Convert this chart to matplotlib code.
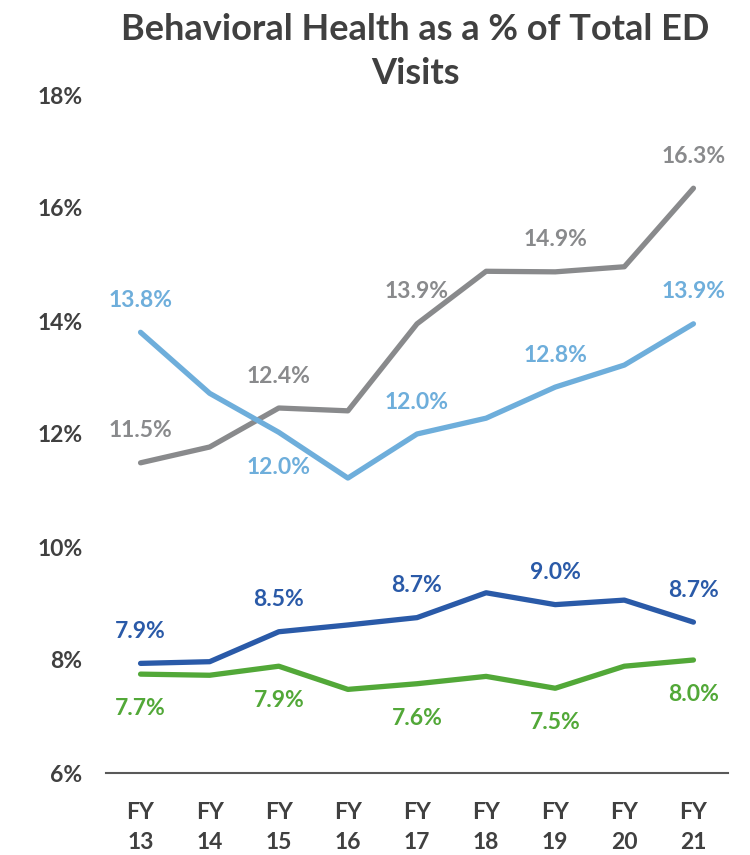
import matplotlib
matplotlib.use("Agg")
import matplotlib.pyplot as plt

years = ["FY\n13", "FY\n14", "FY\n15", "FY\n16", "FY\n17", "FY\n18", "FY\n19", "FY\n20", "FY\n21"]
gray_vals = [11.49, 11.77, 12.46, 12.41, 13.95, 14.88, 14.87, 14.96, 16.35]
lightblue_vals = [13.80, 12.72, 12.03, 11.22, 12.00, 12.28, 12.83, 13.22, 13.95]
darkblue_vals = [7.94, 7.97, 8.50, 8.62, 8.75, 9.19, 8.98, 9.06, 8.67]
green_vals = [7.75, 7.73, 7.89, 7.48, 7.58, 7.71, 7.50, 7.89, 8.00]

gray_labels = {0: "11.5%", 2: "12.4%", 4: "13.9%", 6: "14.9%", 8: "16.3%"}
lightblue_labels = {0: "13.8%", 2: "12.0%", 4: "12.0%", 6: "12.8%", 8: "13.9%"}
darkblue_labels = {0: "7.9%", 2: "8.5%", 4: "8.7%", 6: "9.0%", 8: "8.7%"}
green_labels = {0: "7.7%", 2: "7.9%", 4: "7.6%", 6: "7.5%", 8: "8.0%"}
yticks = [6, 8, 10, 12, 14, 16, 18]

FONT = "Lato"
TXT = "#404040"
c_gray = "#898a8c"
c_lb = "#6eaedb"
c_db = "#2a5aa8"
c_gr = "#52a838"
FS = 16.5

fig = plt.figure(figsize=(7.5, 8.55), dpi=100)
ax = fig.add_axes([106/750, 1-773/855, 622/750, (773-95)/855])
x = list(range(len(years)))

series = [
    (gray_vals, c_gray, gray_labels, {}),
    (lightblue_vals, c_lb, lightblue_labels, {2: "below"}),
    (darkblue_vals, c_db, darkblue_labels, {}),
    (green_vals, c_gr, green_labels, {i: "below" for i in range(9)}),
]
for vals, col, labs, pos in series:
    ax.plot(x, vals, color=col, lw=3.8, solid_capstyle="round", solid_joinstyle="round")
    for i, t in labs.items():
        off = -25 if pos.get(i) == "below" else 23
        ax.annotate(t, (i, vals[i]), xytext=(0, off), textcoords="offset points",
                    ha="center", va="center", color=col, fontsize=FS,
                    fontweight="bold", fontfamily=FONT)

ax.set_xlim(-0.5, 8.5)
ax.set_ylim(6, 18)
ax.set_yticks(yticks)
ax.set_yticklabels([f"{v}%" for v in yticks], fontsize=FS, fontweight="bold",
                   fontfamily=FONT, color=TXT)
ax.set_xticks(x)
ax.set_xticklabels(years, fontsize=FS, fontweight="bold", fontfamily=FONT,
                   color=TXT, linespacing=1.5)
ax.tick_params(axis="both", length=0)
ax.tick_params(axis="y", pad=17)
ax.tick_params(axis="x", pad=21)
for s in ["top", "right", "left"]:
    ax.spines[s].set_visible(False)
ax.spines["bottom"].set_color("#595959")
ax.spines["bottom"].set_linewidth(1.5)

fig.text(415/750, 1-30/855, "Behavioral Health as a % of Total ED", ha="center", va="center",
         fontsize=26, fontweight="bold", fontfamily=FONT, color=TXT)
fig.text(415/750, 1-73/855, "Visits", ha="center", va="center",
         fontsize=26, fontweight="bold", fontfamily=FONT, color=TXT)

fig.savefig("out.png", dpi=100)
